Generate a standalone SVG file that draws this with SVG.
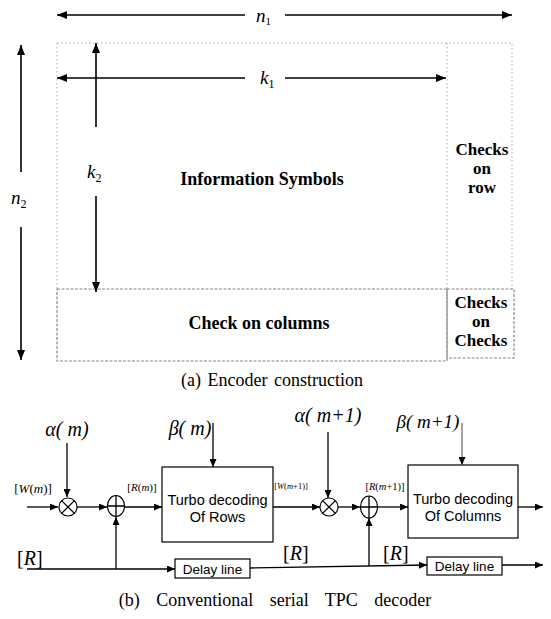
<svg xmlns="http://www.w3.org/2000/svg" width="551" height="619" viewBox="0 0 551 619">
<defs>
<marker id="ah" markerWidth="10" markerHeight="8" refX="10" refY="4" orient="auto" markerUnits="userSpaceOnUse">
<path d="M0,0 L10,4 L0,8 Z" fill="#000"/>
</marker>
<marker id="as" markerWidth="8" markerHeight="7" refX="8" refY="3.5" orient="auto" markerUnits="userSpaceOnUse">
<path d="M0,0 L8,3.5 L0,7 Z" fill="#000"/>
</marker>
<style>
.ln{stroke:#000;stroke-width:1.6;fill:none}
.th{stroke:#000;stroke-width:1.3;fill:none}
.dot{stroke:#aaa;stroke-width:1;stroke-dasharray:1.5 2.5;fill:none}
.box{stroke:#888;stroke-width:1.2;stroke-dasharray:3 1.5;fill:none}
.blk{stroke:#000;stroke-width:1.2;fill:#fff}
.it{font-family:"Liberation Serif","Times New Roman",serif;font-style:italic}
.bd{font-family:"Liberation Serif","Times New Roman",serif;font-weight:bold}
.cap{font-family:"Liberation Serif","Times New Roman",serif}
.sn{font-family:"Liberation Sans",Arial,sans-serif}
.sm{font-family:"Liberation Serif","Times New Roman",serif}
</style>
</defs>
<rect width="551" height="619" fill="#fff"/>

<!-- (a) Encoder construction -->
<g id="outline">
<path class="dot" d="M57,43 H512 V289 M57,43 V289"/>
<line class="dot" x1="447" y1="43" x2="447" y2="289"/>
</g>
<g id="info">
<text class="bd" x="262" y="185" text-anchor="middle" font-size="18">Information Symbols</text>
</g>
<g id="checksrow">
<text class="bd" x="482" y="155" text-anchor="middle" font-size="17">Checks</text>
<text class="bd" x="482" y="174" text-anchor="middle" font-size="17">on</text>
<text class="bd" x="482" y="193" text-anchor="middle" font-size="17">row</text>
</g>
<g id="checkcols">
<rect class="box" x="57" y="289" width="390" height="72"/>
<text class="bd" x="259" y="329" text-anchor="middle" font-size="18">Check on columns</text>
</g>
<g id="checkschecks">
<rect class="box" x="447" y="289" width="67" height="69"/>
<text class="bd" x="481" y="308" text-anchor="middle" font-size="17">Checks</text>
<text class="bd" x="481" y="327" text-anchor="middle" font-size="17">on</text>
<text class="bd" x="481" y="346" text-anchor="middle" font-size="17">Checks</text>
</g>
<g id="dims">
<line class="ln" x1="245" y1="15" x2="57" y2="15" marker-end="url(#ah)"/>
<line class="ln" x1="285" y1="15" x2="512" y2="15" marker-end="url(#ah)"/>
<text class="it" x="256" y="22" font-size="19">n<tspan font-size="11" font-style="normal" dy="3">1</tspan></text>
<line class="ln" x1="245" y1="78" x2="57" y2="78" marker-end="url(#ah)"/>
<line class="ln" x1="285" y1="78" x2="446" y2="78" marker-end="url(#ah)"/>
<text class="it" x="260" y="84" font-size="19">k<tspan font-size="12" font-style="normal" dy="4">1</tspan></text>
<line class="ln" x1="96" y1="127" x2="96" y2="43" marker-end="url(#ah)"/>
<line class="ln" x1="96" y1="196" x2="96" y2="292" marker-end="url(#ah)"/>
<text class="it" x="87" y="178" font-size="19">k<tspan font-size="12" font-style="normal" dy="4">2</tspan></text>
<line class="ln" x1="21" y1="172" x2="21" y2="45" marker-end="url(#ah)"/>
<line class="ln" x1="21" y1="227" x2="21" y2="360" marker-end="url(#ah)"/>
<text class="it" x="11" y="204" font-size="19">n<tspan font-size="12" font-style="normal" dy="4">2</tspan></text>
</g>
<text class="cap" x="272" y="386" text-anchor="middle" font-size="18" word-spacing="2">(a) Encoder construction</text>

<!-- (b) decoder -->
<g id="mult1">
<circle class="blk" cx="68" cy="507" r="9"/>
<path class="th" d="M61.6,500.6 L74.4,513.4 M74.4,500.6 L61.6,513.4"/>
</g>
<g id="add1">
<ellipse class="blk" cx="116" cy="506" rx="8.5" ry="10.5"/>
<path class="th" d="M107.5,506 H124.5 M116,495.5 V516.5"/>
</g>
<g id="turbo1">
<rect class="blk" x="162" y="467" width="111" height="75"/>
<text class="sn" x="217.5" y="505" text-anchor="middle" font-size="14.5">Turbo decoding</text>
<text class="sn" x="217.5" y="522" text-anchor="middle" font-size="14.5">Of Rows</text>
</g>
<g id="delay1">
<rect class="blk" x="175" y="559" width="75" height="19"/>
<text class="sn" x="212.5" y="574" text-anchor="middle" font-size="13.5">Delay line</text>
</g>
<g id="mult2">
<circle class="blk" cx="329" cy="507" r="9"/>
<path class="th" d="M322.6,500.6 L335.4,513.4 M335.4,500.6 L322.6,513.4"/>
</g>
<g id="add2">
<ellipse class="blk" cx="369" cy="507" rx="8.5" ry="11"/>
<path class="th" d="M360.5,507 H377.5 M369,496 V518"/>
</g>
<g id="turbo2">
<rect class="blk" x="408" y="465" width="110" height="73"/>
<text class="sn" x="463" y="504" text-anchor="middle" font-size="14.5">Turbo decoding</text>
<text class="sn" x="463" y="521" text-anchor="middle" font-size="14.5">Of Columns</text>
</g>
<g id="delay2">
<rect class="blk" x="427" y="557" width="75" height="18"/>
<text class="sn" x="464.5" y="571" text-anchor="middle" font-size="13.5">Delay line</text>
</g>

<g id="connectors">
<line class="th" x1="67" y1="443" x2="67" y2="497" marker-end="url(#as)"/>
<line class="th" x1="27" y1="507" x2="58" y2="507" marker-end="url(#as)"/>
<line class="th" x1="77" y1="507" x2="107" y2="507" marker-end="url(#as)"/>
<line class="th" x1="124" y1="507" x2="162" y2="507" marker-end="url(#as)"/>
<line class="th" x1="213" y1="423" x2="213" y2="467" marker-end="url(#as)"/>
<line class="th" x1="27" y1="569" x2="175" y2="569" marker-end="url(#as)"/>
<line class="th" x1="116" y1="569" x2="116" y2="517" marker-end="url(#as)"/>
<line class="th" x1="250" y1="568" x2="427" y2="565" marker-end="url(#as)"/>
<line class="th" x1="369" y1="566" x2="369" y2="518" marker-end="url(#as)"/>
<line class="th" x1="273" y1="507" x2="320" y2="507" marker-end="url(#as)"/>
<line class="th" x1="328" y1="432" x2="328" y2="498" marker-end="url(#as)"/>
<line class="th" x1="338" y1="507" x2="360" y2="507" marker-end="url(#as)"/>
<line class="th" x1="378" y1="507" x2="408" y2="507" marker-end="url(#as)"/>
<line x1="462" y1="423" x2="462" y2="465" stroke="#555" stroke-width="1.1" marker-end="url(#as)"/>
<line class="th" x1="518" y1="507" x2="543" y2="507" marker-end="url(#as)"/>
<line class="th" x1="502" y1="565" x2="543" y2="565" marker-end="url(#as)"/>
</g>

<g id="labels">
<text class="it" x="67" y="436" font-size="20" text-anchor="middle">α( m)</text>
<text class="it" x="190" y="435" font-size="20" text-anchor="middle">β( m)</text>
<text class="it" x="328" y="422" font-size="20" text-anchor="middle">α( m+1)</text>
<text class="it" x="428" y="428" font-size="19" text-anchor="middle">β( m+1)</text>
<text class="sm" x="33" y="493" text-anchor="middle" font-size="13">[<tspan font-style="italic">W</tspan>(<tspan font-style="italic">m</tspan>)]</text>
<text class="sm" x="142" y="491" text-anchor="middle" font-size="11">[<tspan font-style="italic">R</tspan>(<tspan font-style="italic">m</tspan>)]</text>
<text class="sm" x="291" y="489" text-anchor="middle" font-size="8.5">[<tspan font-style="italic">W</tspan>(<tspan font-style="italic">m</tspan>+1)]</text>
<text class="sm" x="385" y="490" text-anchor="middle" font-size="10.5">[<tspan font-style="italic">R</tspan>(<tspan font-style="italic">m</tspan>+1)]</text>
<text class="sm" x="17" y="565" font-size="20">[<tspan font-style="italic">R</tspan>]</text>
<text class="sm" x="283" y="560" font-size="20">[<tspan font-style="italic">R</tspan>]</text>
<text class="sm" x="383" y="560" font-size="20">[<tspan font-style="italic">R</tspan>]</text>
</g>
<text class="cap" x="275" y="606" text-anchor="middle" font-size="18" word-spacing="12">(b) Conventional serial TPC decoder</text>
</svg>
